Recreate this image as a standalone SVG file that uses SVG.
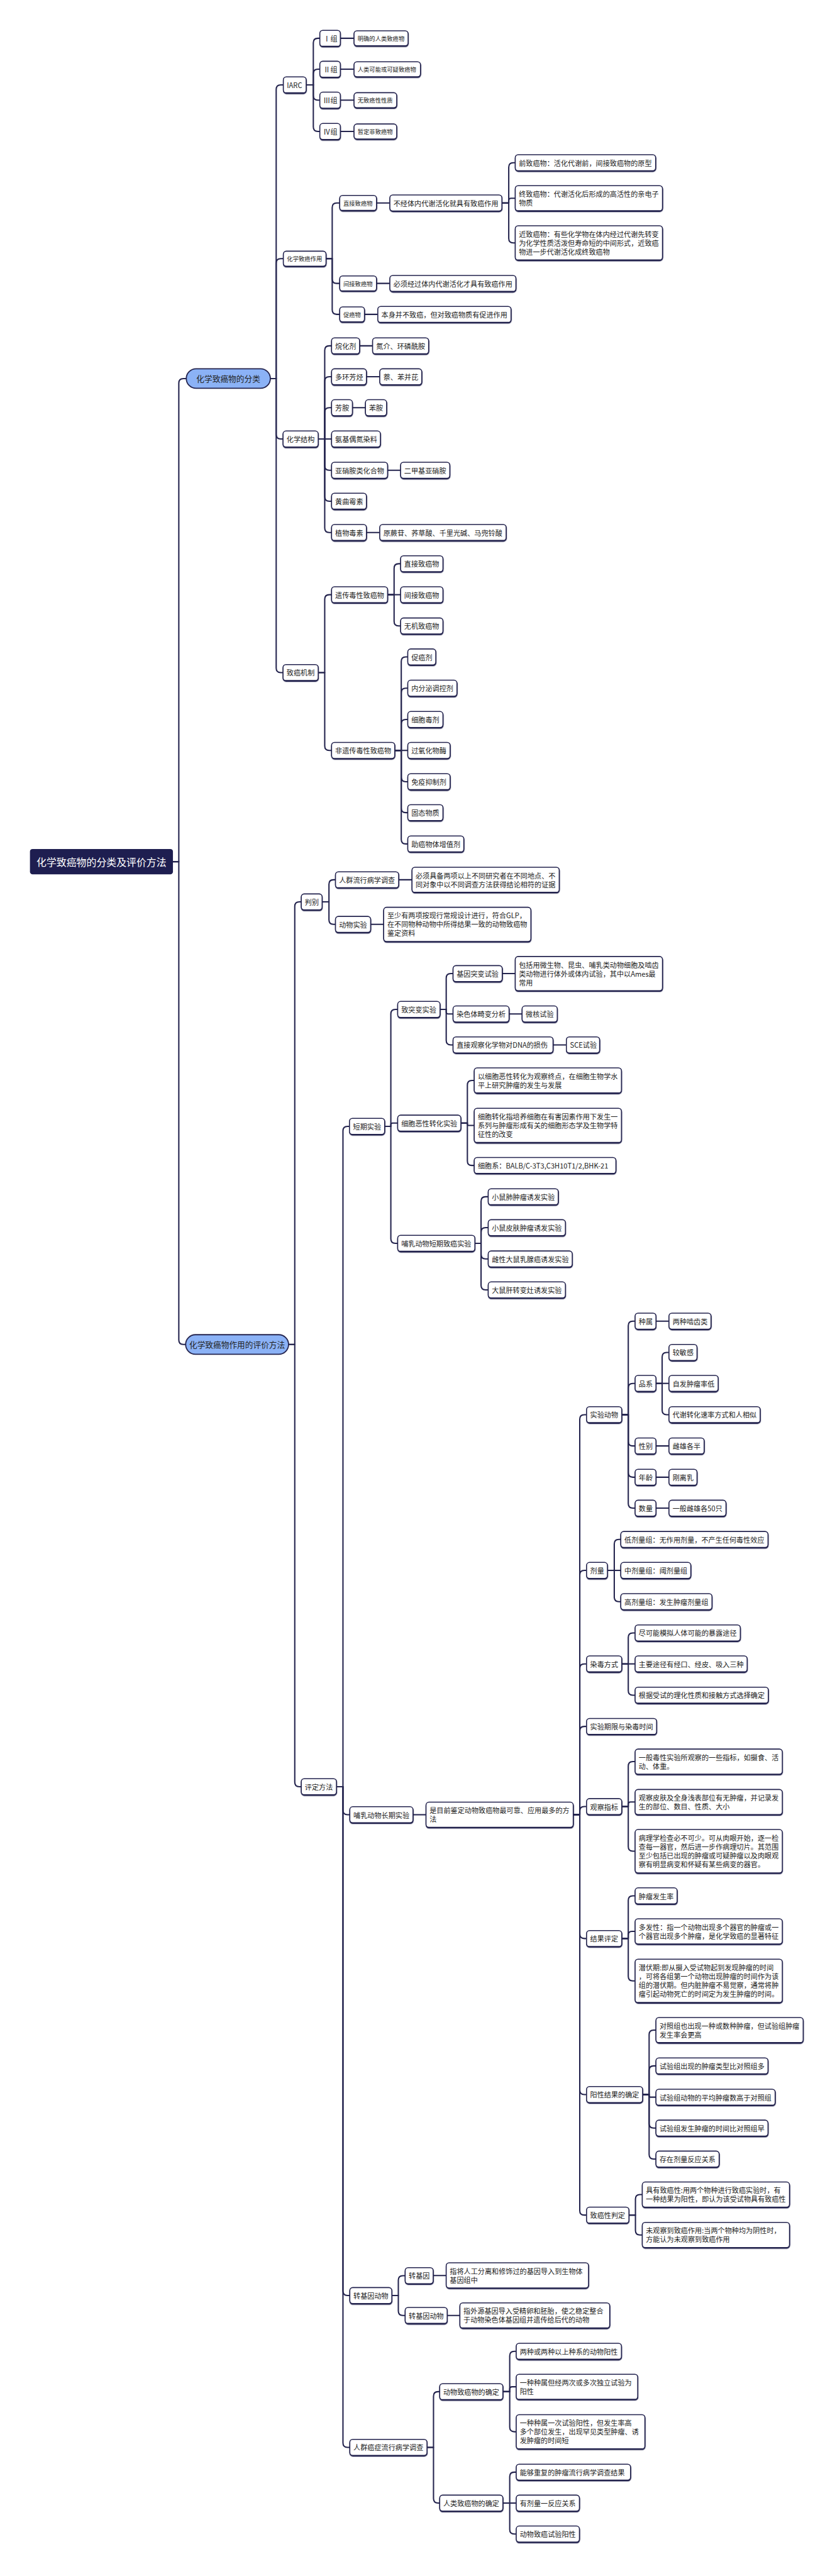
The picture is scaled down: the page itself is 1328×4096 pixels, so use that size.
<svg xmlns="http://www.w3.org/2000/svg" width="1328" height="4096" viewBox="0 0 1328 4096">
<defs>
<filter id="sh" x="-5%" y="-10%" width="110%" height="130%"><feDropShadow dx="0.5" dy="2.5" stdDeviation="0" flood-color="#24244e"/></filter>
<style>
text{font-family:"Noto Sans CJK SC","Noto Sans",sans-serif;font-size:21.5px;fill:#222;dominant-baseline:central}
.n rect{fill:#fff;stroke:#24244e;stroke-width:3;rx:9px;ry:9px;filter:url(#sh)}
.sm text{font-size:18px}
.c path{fill:none;stroke:#24244e;stroke-width:4;stroke-linejoin:round}
.br rect{fill:#8bb2f6;stroke:#24244e;stroke-width:3.5}
.br text{font-size:24.5px;text-anchor:middle}
.rt rect{fill:#1e1e50}
.rt text{font-size:30.7px;fill:#fff;text-anchor:middle}
</style>
</defs>
<rect width="1328" height="4096" fill="#fff"/>
<g transform="scale(0.518)">
<g class="c" id="connectors">
<path d="M531 2645H549V1176Q549 1162 563 1162H572"/>
<path d="M531 2645H549V4113Q549 4127 563 4127H570"/>
<path d="M830 1162H848V274.5Q848 260.5 862 260.5H870"/>
<path d="M830 1162H848V808Q848 794 862 794H870"/>
<path d="M830 1162H848V1333.5Q848 1347.5 862 1347.5H869"/>
<path d="M830 1162H848V2050.5Q848 2064.5 862 2064.5H869"/>
<path d="M940 260.5H962V131.5Q962 117.5 976 117.5H982"/>
<path d="M940 260.5H962V226.5Q962 212.5 976 212.5H982"/>
<path d="M940 260.5H962V293.5Q962 307.5 976 307.5H982"/>
<path d="M940 260.5H962V389.5Q962 403.5 976 403.5H982"/>
<path d="M1045 117.5H1087M1045 212.5H1087M1045 307.5H1087M1045 403.5H1087"/>
<path d="M1001 794H1020V637Q1020 623 1034 623H1043"/>
<path d="M1001 794H1020V856Q1020 870 1034 870H1043"/>
<path d="M1001 794H1020V951Q1020 965 1034 965H1043"/>
<path d="M1156 623H1197M1156 870H1197M1119 965H1160"/>
<path d="M1541 623H1562V513.5Q1562 499.5 1576 499.5H1582"/>
<path d="M1541 623H1562V615.75Q1562 608.5 1569.25 608.5H1582"/>
<path d="M1541 623H1562V731.5Q1562 745.5 1576 745.5H1582"/>
<path d="M977 1347.5H997V1075.5Q997 1061.5 1011 1061.5H1018"/>
<path d="M977 1347.5H997V1170.5Q997 1156.5 1011 1156.5H1018"/>
<path d="M977 1347.5H997V1265.5Q997 1251.5 1011 1251.5H1018"/>
<path d="M977 1347.5H1018"/>
<path d="M977 1347.5H997V1429.5Q997 1443.5 1011 1443.5H1018"/>
<path d="M977 1347.5H997V1524.5Q997 1538.5 1011 1538.5H1018"/>
<path d="M977 1347.5H997V1620.5Q997 1634.5 1011 1634.5H1018"/>
<path d="M1104 1061.5H1144M1125 1156.5H1166M1082 1251.5H1122M1190 1443.5H1230M1125 1634.5H1166"/>
<path d="M977 2064.5H997V1839.5Q997 1825.5 1011 1825.5H1018"/>
<path d="M977 2064.5H997V2289.5Q997 2303.5 1011 2303.5H1018"/>
<path d="M1190 1825.5H1210V1744.5Q1210 1730.5 1224 1730.5H1230"/>
<path d="M1190 1825.5H1230"/>
<path d="M1190 1825.5H1210V1907.5Q1210 1921.5 1224 1921.5H1230"/>
<path d="M1212 2303.5H1232V2030.5Q1232 2016.5 1246 2016.5H1252"/>
<path d="M1212 2303.5H1232V2126.5Q1232 2112.5 1246 2112.5H1252"/>
<path d="M1212 2303.5H1232V2222.5Q1232 2208.5 1246 2208.5H1252"/>
<path d="M1212 2303.5H1252"/>
<path d="M1212 2303.5H1232V2385.5Q1232 2399.5 1246 2399.5H1252"/>
<path d="M1212 2303.5H1232V2480.5Q1232 2494.5 1246 2494.5H1252"/>
<path d="M1212 2303.5H1232V2576.5Q1232 2590.5 1246 2590.5H1252"/>
<path d="M886 4127H905V2782.5Q905 2768.5 919 2768.5H925"/>
<path d="M886 4127H905V5470.5Q905 5484.5 919 5484.5H925"/>
<path d="M989 2768.5H1010V2714.5Q1010 2700.5 1024 2700.5H1030"/>
<path d="M989 2768.5H1010V2823.5Q1010 2837.5 1024 2837.5H1030"/>
<path d="M1224 2700.5H1265M1138 2837.5H1178"/>
<path d="M1033 5484.5H1053V3471.5Q1053 3457.5 1067 3457.5H1073"/>
<path d="M1033 5484.5H1053V5556.5Q1053 5570.5 1067 5570.5H1074"/>
<path d="M1033 5484.5H1053V7032.5Q1053 7046.5 1067 7046.5H1074"/>
<path d="M1033 5484.5H1053V7498.5Q1053 7512.5 1067 7512.5H1074"/>
<path d="M1181 3457.5H1200V3112.5Q1200 3098.5 1214 3098.5H1221"/>
<path d="M1181 3457.5H1200V3452.5Q1200 3447.5 1205 3447.5H1221"/>
<path d="M1181 3457.5H1200V3802.5Q1200 3816.5 1214 3816.5H1221"/>
<path d="M1351 3098.5H1370V3002.5Q1370 2988.5 1384 2988.5H1391"/>
<path d="M1351 3098.5H1370V3105.5Q1370 3112.5 1377 3112.5H1391"/>
<path d="M1351 3098.5H1370V3193.5Q1370 3207.5 1384 3207.5H1391"/>
<path d="M1542 2988.5H1582M1563 3112.5H1603M1698 3207.5H1739"/>
<path d="M1415 3447.5H1435V3330.5Q1435 3316.5 1449 3316.5H1456"/>
<path d="M1415 3447.5H1435V3451Q1435 3454.5 1438.5 3454.5H1456"/>
<path d="M1415 3447.5H1435V3563.5Q1435 3577.5 1449 3577.5H1456"/>
<path d="M1458 3816.5H1477V3687.5Q1477 3673.5 1491 3673.5H1499"/>
<path d="M1458 3816.5H1477V3782.5Q1477 3768.5 1491 3768.5H1499"/>
<path d="M1458 3816.5H1477V3850.5Q1477 3864.5 1491 3864.5H1499"/>
<path d="M1458 3816.5H1477V3945.5Q1477 3959.5 1491 3959.5H1499"/>
<path d="M1268 5570.5H1308"/>
<path d="M1760 5570.5H1780V4356.5Q1780 4342.5 1794 4342.5H1801"/>
<path d="M1760 5570.5H1780V4834.5Q1780 4820.5 1794 4820.5H1801"/>
<path d="M1760 5570.5H1780V5121.5Q1780 5107.5 1794 5107.5H1801"/>
<path d="M1760 5570.5H1780V5313.5Q1780 5299.5 1794 5299.5H1801"/>
<path d="M1760 5570.5H1780V5559.5Q1780 5545.5 1794 5545.5H1801"/>
<path d="M1760 5570.5H1780V5936.5Q1780 5950.5 1794 5950.5H1801"/>
<path d="M1760 5570.5H1780V6415.5Q1780 6429.5 1794 6429.5H1801"/>
<path d="M1760 5570.5H1780V6785.5Q1780 6799.5 1794 6799.5H1801"/>
<path d="M1909 4342.5H1929V4069.5Q1929 4055.5 1943 4055.5H1950"/>
<path d="M1909 4342.5H1929V4260.5Q1929 4246.5 1943 4246.5H1950"/>
<path d="M1909 4342.5H1929V4424.5Q1929 4438.5 1943 4438.5H1950"/>
<path d="M1909 4342.5H1929V4520.5Q1929 4534.5 1943 4534.5H1950"/>
<path d="M1909 4342.5H1929V4615.5Q1929 4629.5 1943 4629.5H1950"/>
<path d="M2014 4055.5H2054M2014 4438.5H2054M2014 4534.5H2054M2014 4629.5H2054"/>
<path d="M2014 4246.5H2033V4165.5Q2033 4151.5 2047 4151.5H2054"/>
<path d="M2014 4246.5H2054"/>
<path d="M2014 4246.5H2033V4328.5Q2033 4342.5 2047 4342.5H2054"/>
<path d="M1865 4820.5H1886V4739.5Q1886 4725.5 1900 4725.5H1906"/>
<path d="M1865 4820.5H1906"/>
<path d="M1865 4820.5H1886V4902.5Q1886 4916.5 1900 4916.5H1906"/>
<path d="M1909 5107.5H1929V5026.5Q1929 5012.5 1943 5012.5H1950"/>
<path d="M1909 5107.5H1950"/>
<path d="M1909 5107.5H1929V5189.5Q1929 5203.5 1943 5203.5H1950"/>
<path d="M1909 5545.5H1929V5421.5Q1929 5407.5 1943 5407.5H1950"/>
<path d="M1909 5545.5H1929V5538.5Q1929 5531.5 1936 5531.5H1950"/>
<path d="M1909 5545.5H1929V5668.5Q1929 5682.5 1943 5682.5H1950"/>
<path d="M1909 5950.5H1929V5833.5Q1929 5819.5 1943 5819.5H1950"/>
<path d="M1909 5950.5H1929V5939.5Q1929 5928.5 1940 5928.5H1950"/>
<path d="M1909 5950.5H1929V6066.5Q1929 6080.5 1943 6080.5H1950"/>
<path d="M1973 6429.5H1993V6245.5Q1993 6231.5 2007 6231.5H2014"/>
<path d="M1973 6429.5H1993V6355.5Q1993 6341.5 2007 6341.5H2014"/>
<path d="M1973 6429.5H1993V6433.5Q1993 6437.5 1997 6437.5H2014"/>
<path d="M1973 6429.5H1993V6518.5Q1993 6532.5 2007 6532.5H2014"/>
<path d="M1973 6429.5H1993V6613.5Q1993 6627.5 2007 6627.5H2014"/>
<path d="M1931 6799.5H1951V6750.5Q1951 6736.5 1965 6736.5H1972"/>
<path d="M1931 6799.5H1951V6846.5Q1951 6860.5 1965 6860.5H1972"/>
<path d="M1203 7046.5H1223V6999.5Q1223 6985.5 1237 6985.5H1244"/>
<path d="M1203 7046.5H1223V7093.5Q1223 7107.5 1237 7107.5H1244"/>
<path d="M1330 6985H1370M1373 7107.5H1412"/>
<path d="M1311 7512.5H1331V7355.5Q1331 7341.5 1345 7341.5H1350"/>
<path d="M1311 7512.5H1331V7669.5Q1331 7683.5 1345 7683.5H1350"/>
<path d="M1544 7341.5H1565V7231.5Q1565 7217.5 1579 7217.5H1585"/>
<path d="M1544 7341.5H1565V7334Q1565 7326.5 1572.5 7326.5H1585"/>
<path d="M1544 7341.5H1565V7450.5Q1565 7464.5 1579 7464.5H1585"/>
<path d="M1544 7683.5H1565V7602.5Q1565 7588.5 1579 7588.5H1585"/>
<path d="M1544 7683.5H1585"/>
<path d="M1544 7683.5H1565V7764.5Q1565 7778.5 1579 7778.5H1585"/>
</g>

<g id="root" class="rt"><rect x="92" y="2606" width="439" height="78" rx="8"/><text x="311.5" y="2645">化学致癌物的分类及评价方法</text></g>
<g id="b1" class="br"><rect x="572" y="1132" width="258" height="60" rx="30"/><text x="701" y="1162">化学致癌物的分类</text></g>
<g id="b2" class="br"><rect x="570" y="4097" width="316" height="60" rx="30"/><text x="728" y="4127">化学致癌物作用的评价方法</text></g>

<g id="iarc" class="n"><rect x="870" y="236" width="70" height="49"/><text x="881" y="260.5">IARC</text></g>
<g id="g1" class="n"><rect x="982" y="93" width="63" height="49"/><text x="993" y="117.5">Ⅰ组</text></g>
<g id="l1" class="n sm"><rect x="1087" y="94.5" width="166" height="46"/><text x="1098" y="117.5">明确的人类致癌物</text></g>
<g id="g2" class="n"><rect x="982" y="188" width="63" height="49"/><text x="993" y="212.5">Ⅱ组</text></g>
<g id="l2" class="n sm"><rect x="1087" y="189.5" width="204" height="46"/><text x="1098" y="212.5">人类可能或可疑致癌物</text></g>
<g id="g3" class="n"><rect x="982" y="283" width="63" height="49"/><text x="993" y="307.5">Ⅲ组</text></g>
<g id="l3" class="n sm"><rect x="1087" y="284.5" width="131" height="46"/><text x="1098" y="307.5">无致癌性性质</text></g>
<g id="g4" class="n"><rect x="982" y="379" width="63" height="49"/><text x="993" y="403.5">Ⅳ组</text></g>
<g id="l4" class="n sm"><rect x="1087" y="380.5" width="131" height="46"/><text x="1098" y="403.5">暂定非致癌物</text></g>

<g id="hxzazy" class="n sm"><rect x="870" y="771" width="131" height="46"/><text x="881" y="794">化学致癌作用</text></g>
<g id="zjzaw" class="n sm"><rect x="1043" y="600" width="113" height="46"/><text x="1054" y="623">直接致癌物</text></g>
<g id="bjtn" class="n"><rect x="1197" y="598.5" width="344" height="49"/><text x="1208" y="623">不经体内代谢活化就具有致癌作用</text></g>
<g id="qzaw" class="n"><rect x="1582" y="475" width="431" height="49"/><text x="1593" y="499.5">前致癌物：活化代谢前，间接致癌物的原型</text></g>
<g id="zzaw" class="n"><rect x="1582" y="570" width="452" height="77"/><text x="1593" y="594.5"><tspan x="1593" dy="0">终致癌物：代谢活化后形成的高活性的亲电子</tspan><tspan x="1593" dy="27">物质</tspan></text></g>
<g id="jzaw" class="n"><rect x="1582" y="693" width="452" height="105"/><text x="1593" y="717.5"><tspan x="1593" dy="0">近致癌物：有些化学物在体内经过代谢先转变</tspan><tspan x="1593" dy="27">为化学性质活泼但寿命短的中间形式，近致癌</tspan><tspan x="1593" dy="27">物进一步代谢活化成终致癌物</tspan></text></g>
<g id="jjzaw" class="n sm"><rect x="1043" y="847" width="113" height="46"/><text x="1054" y="870">间接致癌物</text></g>
<g id="bxjg" class="n"><rect x="1197" y="845.5" width="387" height="49"/><text x="1208" y="870">必须经过体内代谢活化才具有致癌作用</text></g>
<g id="caw" class="n sm"><rect x="1043" y="942" width="76" height="46"/><text x="1054" y="965">促癌物</text></g>
<g id="bsbb" class="n"><rect x="1160" y="940.5" width="409" height="49"/><text x="1171" y="965">本身并不致癌，但对致癌物质有促进作用</text></g>

<g id="hxjg" class="n"><rect x="869" y="1323" width="108" height="49"/><text x="880" y="1347.5">化学结构</text></g>
<g id="whj" class="n"><rect x="1018" y="1037" width="86" height="49"/><text x="1029" y="1061.5">烷化剂</text></g>
<g id="dj" class="n"><rect x="1144" y="1037" width="172" height="49"/><text x="1155" y="1061.5">氮介、环磷酰胺</text></g>
<g id="dhft" class="n"><rect x="1018" y="1132" width="107" height="49"/><text x="1029" y="1156.5">多环芳烃</text></g>
<g id="nbbb" class="n"><rect x="1166" y="1132" width="129" height="49"/><text x="1177" y="1156.5">萘、苯并芘</text></g>
<g id="fa" class="n"><rect x="1018" y="1227" width="64" height="49"/><text x="1029" y="1251.5">芳胺</text></g>
<g id="ba" class="n"><rect x="1122" y="1227" width="65" height="49"/><text x="1133" y="1251.5">苯胺</text></g>
<g id="ajod" class="n"><rect x="1018" y="1323" width="150" height="49"/><text x="1029" y="1347.5">氨基偶氮染料</text></g>
<g id="xxal" class="n"><rect x="1018" y="1419" width="172" height="49"/><text x="1029" y="1443.5">亚硝胺类化合物</text></g>
<g id="ejjx" class="n"><rect x="1230" y="1419" width="151" height="49"/><text x="1241" y="1443.5">二甲基亚硝胺</text></g>
<g id="hqms" class="n"><rect x="1018" y="1514" width="107" height="49"/><text x="1029" y="1538.5">黄曲霉素</text></g>
<g id="zwds" class="n"><rect x="1018" y="1610" width="107" height="49"/><text x="1029" y="1634.5">植物毒素</text></g>
<g id="yjg" class="n"><rect x="1166" y="1610" width="388" height="49"/><text x="1177" y="1634.5">原蕨苷、荞草酸、千里光碱、马兜铃酸</text></g>

<g id="zajz" class="n"><rect x="869" y="2040" width="108" height="49"/><text x="880" y="2064.5">致癌机制</text></g>
<g id="ycdx" class="n"><rect x="1018" y="1801" width="172" height="49"/><text x="1029" y="1825.5">遗传毒性致癌物</text></g>
<g id="zjzaw2" class="n"><rect x="1230" y="1706" width="130" height="49"/><text x="1241" y="1730.5">直接致癌物</text></g>
<g id="jjzaw2" class="n"><rect x="1230" y="1801" width="130" height="49"/><text x="1241" y="1825.5">间接致癌物</text></g>
<g id="wjzaw" class="n"><rect x="1230" y="1897" width="130" height="49"/><text x="1241" y="1921.5">无机致癌物</text></g>
<g id="fycdx" class="n"><rect x="1018" y="2279" width="194" height="49"/><text x="1029" y="2303.5">非遗传毒性致癌物</text></g>
<g id="caj" class="n"><rect x="1252" y="1992" width="86" height="49"/><text x="1263" y="2016.5">促癌剂</text></g>
<g id="nfm" class="n"><rect x="1252" y="2088" width="151" height="49"/><text x="1263" y="2112.5">内分泌调控剂</text></g>
<g id="xbdj" class="n"><rect x="1252" y="2184" width="108" height="49"/><text x="1263" y="2208.5">细胞毒剂</text></g>
<g id="gyhm" class="n"><rect x="1252" y="2279" width="130" height="49"/><text x="1263" y="2303.5">过氧化物酶</text></g>
<g id="myyz" class="n"><rect x="1252" y="2375" width="130" height="49"/><text x="1263" y="2399.5">免疫抑制剂</text></g>
<g id="gtwz" class="n"><rect x="1252" y="2470" width="108" height="49"/><text x="1263" y="2494.5">固态物质</text></g>
<g id="zaw" class="n"><rect x="1252" y="2566" width="172" height="49"/><text x="1263" y="2590.5">助癌物体增值剂</text></g>

<g id="pb" class="n"><rect x="925" y="2744" width="64" height="49"/><text x="936" y="2768.5">判别</text></g>
<g id="rqlx" class="n"><rect x="1030" y="2676" width="194" height="49"/><text x="1041" y="2700.5">人群流行病学调查</text></g>
<g id="bxjb" class="n"><rect x="1265" y="2662" width="452" height="77"/><text x="1276" y="2686.5"><tspan x="1276" dy="0">必须具备两项以上不同研究者在不同地点、不</tspan><tspan x="1276" dy="27">同对象中以不同调查方法获得结论相符的证据</tspan></text></g>
<g id="dwsy" class="n"><rect x="1030" y="2813" width="108" height="49"/><text x="1041" y="2837.5">动物实验</text></g>
<g id="zsly" class="n"><rect x="1178" y="2785" width="452" height="105"/><text x="1189" y="2809.5"><tspan x="1189" dy="0">至少有两项按现行常规设计进行，符合GLP，</tspan><tspan x="1189" dy="27">在不同物种动物中所得结果一致的动物致癌物</tspan><tspan x="1189" dy="27">鉴定资料</tspan></text></g>

<g id="pdff" class="n"><rect x="925" y="5460" width="108" height="49"/><text x="936" y="5484.5">评定方法</text></g>
<g id="dqsy" class="n"><rect x="1073" y="3433" width="108" height="49"/><text x="1084" y="3457.5">短期实验</text></g>
<g id="ztb" class="n"><rect x="1221" y="3074" width="130" height="49"/><text x="1232" y="3098.5">致突变实验</text></g>
<g id="jytb" class="n"><rect x="1391" y="2964" width="151" height="49"/><text x="1402" y="2988.5">基因突变试验</text></g>
<g id="bkyw" class="n"><rect x="1582" y="2936" width="452" height="105"/><text x="1593" y="2960.5"><tspan x="1593" dy="0">包括用微生物、昆虫、哺乳类动物细胞及啮齿</tspan><tspan x="1593" dy="27">类动物进行体外或体内试验，其中以Ames最</tspan><tspan x="1593" dy="27">常用</tspan></text></g>
<g id="rstj" class="n"><rect x="1391" y="3088" width="172" height="49"/><text x="1402" y="3112.5">染色体畸变分析</text></g>
<g id="whsy" class="n"><rect x="1603" y="3088" width="108" height="49"/><text x="1614" y="3112.5">微核试验</text></g>
<g id="zjgc" class="n"><rect x="1391" y="3183" width="307" height="49"/><text x="1402" y="3207.5">直接观察化学物对DNA的损伤</text></g>
<g id="sce" class="n"><rect x="1739" y="3183" width="102" height="49"/><text x="1750" y="3207.5">SCE试验</text></g>
<g id="xbex" class="n"><rect x="1221" y="3423" width="194" height="49"/><text x="1232" y="3447.5">细胞恶性转化实验</text></g>
<g id="yxbe" class="n"><rect x="1456" y="3278" width="452" height="77"/><text x="1467" y="3302.5"><tspan x="1467" dy="0">以细胞恶性转化为观察终点，在细胞生物学水</tspan><tspan x="1467" dy="27">平上研究肿瘤的发生与发展</tspan></text></g>
<g id="xbzh" class="n"><rect x="1456" y="3402" width="452" height="105"/><text x="1467" y="3426.5"><tspan x="1467" dy="0">细胞转化指培养细胞在有害因素作用下发生一</tspan><tspan x="1467" dy="27">系列与肿瘤形成有关的细胞形态学及生物学特</tspan><tspan x="1467" dy="27">征性的改变</tspan></text></g>
<g id="xbx" class="n"><rect x="1456" y="3553" width="435" height="49"/><text x="1467" y="3577.5">细胞系：BALB/C-3T3,C3H10T1/2,BHK-21</text></g>
<g id="brdq" class="n"><rect x="1221" y="3792" width="237" height="49"/><text x="1232" y="3816.5">哺乳动物短期致癌实验</text></g>
<g id="xsfz" class="n"><rect x="1499" y="3649" width="215" height="49"/><text x="1510" y="3673.5">小鼠肺肿瘤诱发实验</text></g>
<g id="xspf" class="n"><rect x="1499" y="3744" width="237" height="49"/><text x="1510" y="3768.5">小鼠皮肤肿瘤诱发实验</text></g>
<g id="cxds" class="n"><rect x="1499" y="3840" width="258" height="49"/><text x="1510" y="3864.5">雌性大鼠乳腺癌诱发实验</text></g>
<g id="dsgz" class="n"><rect x="1499" y="3935" width="237" height="49"/><text x="1510" y="3959.5">大鼠肝转变灶诱发实验</text></g>

<g id="brcq" class="n"><rect x="1074" y="5546" width="194" height="49"/><text x="1085" y="5570.5">哺乳动物长期实验</text></g>
<g id="smqj" class="n"><rect x="1308" y="5532" width="452" height="77"/><text x="1319" y="5556.5"><tspan x="1319" dy="0">是目前鉴定动物致癌物最可靠、应用最多的方</tspan><tspan x="1319" dy="27">法</tspan></text></g>
<g id="sydw" class="n"><rect x="1801" y="4318" width="108" height="49"/><text x="1812" y="4342.5">实验动物</text></g>
<g id="zs" class="n"><rect x="1950" y="4031" width="64" height="49"/><text x="1961" y="4055.5">种属</text></g>
<g id="lzncl" class="n"><rect x="2054" y="4031" width="129" height="49"/><text x="2065" y="4055.5">两种啮齿类</text></g>
<g id="px" class="n"><rect x="1950" y="4222" width="64" height="49"/><text x="1961" y="4246.5">品系</text></g>
<g id="jmg" class="n"><rect x="2054" y="4127" width="86" height="49"/><text x="2065" y="4151.5">较敏感</text></g>
<g id="zfzl" class="n"><rect x="2054" y="4222" width="151" height="49"/><text x="2065" y="4246.5">自发肿瘤率低</text></g>
<g id="dxzh" class="n"><rect x="2054" y="4318" width="280" height="49"/><text x="2065" y="4342.5">代谢转化速率方式和人相似</text></g>
<g id="xb" class="n"><rect x="1950" y="4414" width="64" height="49"/><text x="1961" y="4438.5">性别</text></g>
<g id="cxgb" class="n"><rect x="2054" y="4414" width="108" height="49"/><text x="2065" y="4438.5">雌雄各半</text></g>
<g id="nl" class="n"><rect x="1950" y="4510" width="64" height="49"/><text x="1961" y="4534.5">年龄</text></g>
<g id="glr" class="n"><rect x="2054" y="4510" width="86" height="49"/><text x="2065" y="4534.5">刚离乳</text></g>
<g id="sl" class="n"><rect x="1950" y="4605" width="64" height="49"/><text x="1961" y="4629.5">数量</text></g>
<g id="ybcx" class="n"><rect x="2054" y="4605" width="175" height="49"/><text x="2065" y="4629.5">一般雌雄各50只</text></g>
<g id="jl" class="n"><rect x="1801" y="4796" width="64" height="49"/><text x="1812" y="4820.5">剂量</text></g>
<g id="djlz" class="n"><rect x="1906" y="4701" width="452" height="49"/><text x="1917" y="4725.5">低剂量组：无作用剂量，不产生任何毒性效应</text></g>
<g id="zjlz" class="n"><rect x="1906" y="4796" width="215" height="49"/><text x="1917" y="4820.5">中剂量组：阈剂量组</text></g>
<g id="gjlz" class="n"><rect x="1906" y="4892" width="280" height="49"/><text x="1917" y="4916.5">高剂量组：发生肿瘤剂量组</text></g>
<g id="rdfs" class="n"><rect x="1801" y="5083" width="108" height="49"/><text x="1812" y="5107.5">染毒方式</text></g>
<g id="jknm" class="n"><rect x="1950" y="4988" width="323" height="49"/><text x="1961" y="5012.5">尽可能模拟人体可能的暴露途径</text></g>
<g id="zytj" class="n"><rect x="1950" y="5083" width="344" height="49"/><text x="1961" y="5107.5">主要途径有经口、经皮、吸入三种</text></g>
<g id="gjss" class="n"><rect x="1950" y="5179" width="409" height="49"/><text x="1961" y="5203.5">根据受试的理化性质和接触方式选择确定</text></g>
<g id="syqx" class="n"><rect x="1801" y="5275" width="215" height="49"/><text x="1812" y="5299.5">实验期限与染毒时间</text></g>
<g id="gczb" class="n"><rect x="1801" y="5521" width="108" height="49"/><text x="1812" y="5545.5">观察指标</text></g>
<g id="ybdx" class="n"><rect x="1950" y="5369" width="452" height="77"/><text x="1961" y="5393.5"><tspan x="1961" dy="0">一般毒性实验所观察的一些指标，如摄食、活</tspan><tspan x="1961" dy="27">动、体重。</tspan></text></g>
<g id="gcpf" class="n"><rect x="1950" y="5493" width="452" height="77"/><text x="1961" y="5517.5"><tspan x="1961" dy="0">观察皮肤及全身浅表部位有无肿瘤，并记录发</tspan><tspan x="1961" dy="27">生的部位、数目、性质、大小</tspan></text></g>
<g id="blxj" class="n"><rect x="1950" y="5616" width="452" height="133"/><text x="1961" y="5640.5"><tspan x="1961" dy="0">病理学检查必不可少。可从肉眼开始，逐一检</tspan><tspan x="1961" dy="27">查每一器官，然后进一步作病理切片。其范围</tspan><tspan x="1961" dy="27">至少包括已出现的肿瘤或可疑肿瘤以及肉眼观</tspan><tspan x="1961" dy="27">察有明显病变和怀疑有某些病变的器官。</tspan></text></g>
<g id="jgpd" class="n"><rect x="1801" y="5926" width="108" height="49"/><text x="1812" y="5950.5">结果评定</text></g>
<g id="zlfs" class="n"><rect x="1950" y="5795" width="129" height="49"/><text x="1961" y="5819.5">肿瘤发生率</text></g>
<g id="dfx" class="n"><rect x="1950" y="5890" width="452" height="77"/><text x="1961" y="5914.5"><tspan x="1961" dy="0">多发性：指一个动物出现多个器官的肿瘤或一</tspan><tspan x="1961" dy="27">个器官出现多个肿瘤，是化学致癌的显著特征</tspan></text></g>
<g id="qfq" class="n"><rect x="1950" y="6014" width="452" height="133"/><text x="1961" y="6038.5"><tspan x="1961" dy="0">潜伏期:即从摄入受试物起到发现肿瘤的时间</tspan><tspan x="1961" dy="27">，可将各组第一个动物出现肿瘤的时间作为该</tspan><tspan x="1961" dy="27">组的潜伏期。但内脏肿瘤不易觉察，通常将肿</tspan><tspan x="1961" dy="27">瘤引起动物死亡的时间定为发生肿瘤的时间。</tspan></text></g>
<g id="yxjg" class="n"><rect x="1801" y="6405" width="172" height="49"/><text x="1812" y="6429.5">阳性结果的确定</text></g>
<g id="dzz" class="n"><rect x="2014" y="6193" width="452" height="77"/><text x="2025" y="6217.5"><tspan x="2025" dy="0">对照组也出现一种或数种肿瘤，但试验组肿瘤</tspan><tspan x="2025" dy="27">发生率会更高</tspan></text></g>
<g id="syz1" class="n"><rect x="2014" y="6317" width="344" height="49"/><text x="2025" y="6341.5">试验组出现的肿瘤类型比对照组多</text></g>
<g id="syz2" class="n"><rect x="2014" y="6413" width="366" height="49"/><text x="2025" y="6437.5">试验组动物的平均肿瘤数高于对照组</text></g>
<g id="syz3" class="n"><rect x="2014" y="6508" width="344" height="49"/><text x="2025" y="6532.5">试验组发生肿瘤的时间比对照组早</text></g>
<g id="czjl" class="n"><rect x="2014" y="6603" width="194" height="49"/><text x="2025" y="6627.5">存在剂量反应关系</text></g>
<g id="zaxpd" class="n"><rect x="1801" y="6775" width="130" height="49"/><text x="1812" y="6799.5">致癌性判定</text></g>
<g id="jyzax" class="n"><rect x="1972" y="6698" width="452" height="77"/><text x="1983" y="6722.5"><tspan x="1983" dy="0">具有致癌性:用两个物种进行致癌实验时，有</tspan><tspan x="1983" dy="27">一种结果为阳性，即认为该受试物具有致癌性</tspan></text></g>
<g id="wgcd" class="n"><rect x="1972" y="6822" width="452" height="77"/><text x="1983" y="6846.5"><tspan x="1983" dy="0">未观察到致癌作用:当两个物种均为阴性时，</tspan><tspan x="1983" dy="27">方能认为未观察到致癌作用</tspan></text></g>

<g id="zjydw" class="n"><rect x="1074" y="7022" width="129" height="49"/><text x="1085" y="7046.5">转基因动物</text></g>
<g id="zjy" class="n"><rect x="1244" y="6961" width="86" height="49"/><text x="1255" y="6985.5">转基因</text></g>
<g id="zjrg" class="n"><rect x="1370" y="6946" width="437" height="77"/><text x="1381" y="6970.5"><tspan x="1381" dy="0">指将人工分离和修饰过的基因导入到生物体</tspan><tspan x="1381" dy="27">基因组中</tspan></text></g>
<g id="zjydw2" class="n"><rect x="1244" y="7083" width="129" height="49"/><text x="1255" y="7107.5">转基因动物</text></g>
<g id="zwyjy" class="n"><rect x="1412" y="7069" width="460" height="77"/><text x="1423" y="7093.5"><tspan x="1423" dy="0">指外源基因导入受精卵和胚胎，使之稳定整合</tspan><tspan x="1423" dy="27">于动物染色体基因组并遗传给后代的动物</tspan></text></g>
<g id="rqaz" class="n"><rect x="1074" y="7488" width="237" height="49"/><text x="1085" y="7512.5">人群癌症流行病学调查</text></g>
<g id="dwzaqd" class="n"><rect x="1350" y="7317" width="194" height="49"/><text x="1361" y="7341.5">动物致癌物的确定</text></g>
<g id="lzhl" class="n"><rect x="1585" y="7193" width="323" height="49"/><text x="1596" y="7217.5">两种或两种以上种系的动物阳性</text></g>
<g id="yzzs1" class="n"><rect x="1585" y="7288" width="373" height="77"/><text x="1596" y="7312.5"><tspan x="1596" dy="0">一种种属但经两次或多次独立试验为</tspan><tspan x="1596" dy="27">阳性</tspan></text></g>
<g id="yzzs2" class="n"><rect x="1585" y="7412" width="395" height="105"/><text x="1596" y="7436.5"><tspan x="1596" dy="0">一种种属一次试验阳性，但发生率高</tspan><tspan x="1596" dy="27">多个部位发生，出现罕见类型肿瘤、诱</tspan><tspan x="1596" dy="27">发肿瘤的时间短</tspan></text></g>
<g id="rlzaqd" class="n"><rect x="1350" y="7659" width="194" height="49"/><text x="1361" y="7683.5">人类致癌物的确定</text></g>
<g id="ngcf" class="n"><rect x="1585" y="7564" width="351" height="49"/><text x="1596" y="7588.5">能够重复的肿瘤流行病学调查结果</text></g>
<g id="yjlfy" class="n"><rect x="1585" y="7659" width="194" height="49"/><text x="1596" y="7683.5">有剂量一反应关系</text></g>
<g id="dwzasy" class="n"><rect x="1585" y="7754" width="194" height="49"/><text x="1596" y="7778.5">动物致癌试验阳性</text></g>
</g>
</svg>
